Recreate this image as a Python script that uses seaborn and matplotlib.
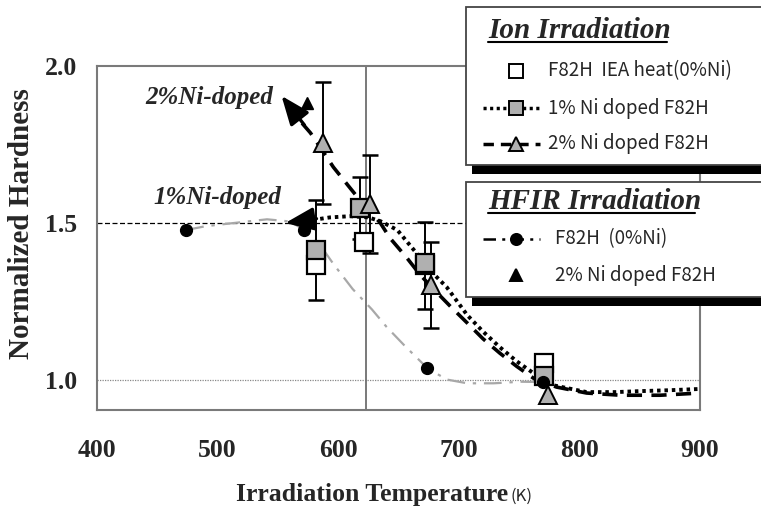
import matplotlib
matplotlib.use('Agg')
import matplotlib.pyplot as plt
import numpy as np
import pandas as pd
import seaborn as sns
from matplotlib.lines import Line2D
from matplotlib.patches import Rectangle

# ---- data ----
# ion irradiation, F82H IEA heat (0%Ni), white squares
t_iea = [582, 621, 672, 771]
h_iea = [1.366, 1.439, 1.365, 1.054]
e_iea = [0.0, 0.0, 0.139, 0.0]
# ion irradiation, 1% Ni doped F82H, grey squares
t_1ni = [582, 618, 672, 771]
h_1ni = [1.414, 1.548, 1.373, 1.013]
e_1ni = [0.16, 0.10, 0.0, 0.0]
# ion irradiation, 2% Ni doped F82H, grey triangles
t_2ni = [587, 626, 677, 774]
h_2ni = [1.755, 1.561, 1.303, 0.952]
e_2ni = [0.195, 0.156, 0.137, 0.0]
# HFIR irradiation
t_hfir = [474, 572, 674, 770]
h_hfir = [1.478, 1.478, 1.038, 0.994]
t_hfir2 = [574]
h_hfir2 = [1.882]

# fitted trend curves
fit1_t = [579, 593, 610, 625, 635, 649, 665, 676, 690, 707, 720, 734, 748, 762, 778, 806, 830, 850, 875, 900]
fit1_h = [1.510, 1.518, 1.522, 1.518, 1.506, 1.478, 1.404, 1.350, 1.296, 1.207, 1.155, 1.105, 1.060, 1.022, 0.984, 0.962, 0.962, 0.965, 0.968, 0.972]
fit2_t = [570, 577, 586, 596, 610, 618, 635, 643, 657, 668, 679, 693, 707, 720, 734, 748, 762, 781, 806, 834, 867, 900]
fit2_h = [1.818, 1.787, 1.736, 1.678, 1.611, 1.573, 1.500, 1.452, 1.389, 1.335, 1.290, 1.235, 1.182, 1.132, 1.086, 1.044, 1.006, 0.978, 0.959, 0.952, 0.952, 0.959]
fitH_t = [474, 490, 513, 541, 560, 572, 585, 596, 612, 628, 640, 655, 674, 690, 707, 729, 751, 770]
fitH_h = [1.478, 1.490, 1.500, 1.512, 1.505, 1.478, 1.430, 1.370, 1.290, 1.225, 1.170, 1.110, 1.038, 1.002, 0.990, 0.990, 0.995, 0.994]

x_ticks = [400, 500, 600, 700, 800, 900]
y_ticks = [1.0, 1.5, 2.0]
t_line = 623

W, H = 761, 508
GREY = '#b0b0b0'
SPINE = '#7a7a7a'

sns.set_style('white')
plt.rcParams['font.family'] = ['Liberation Serif', 'DejaVu Serif']

fig = plt.figure(figsize=(W / 100, H / 100), dpi=100)
ax = fig.add_axes([97 / W, 1 - 410 / H, (700 - 97) / W, (410 - 66) / H])
ax.set_xlim(400, 900)
ax.set_ylim(0.905, 2.0)

# reference lines
ax.axhline(1.5, color='black', lw=0.9, ls=(0, (4, 2)), zorder=1)
ax.axhline(1.0, color='#888888', lw=0.9, ls=(0, (1, 1)), zorder=1)
ax.axvline(t_line, color='#6e6e6e', lw=1.3, zorder=1)

# curves
sns.lineplot(x=fitH_t, y=fitH_h, ax=ax, color='#a8a8a8', lw=1.6,
             linestyle=(0, (8, 3.5, 1.5, 3.5)), zorder=2)
sns.lineplot(x=fit1_t, y=fit1_h, ax=ax, color='black', lw=2.8,
             linestyle=(0, (0.9, 1.0)), zorder=4)
sns.lineplot(x=fit2_t, y=fit2_h, ax=ax, color='black', lw=2.6,
             linestyle=(0, (4.2, 2.6)), zorder=4)

# error bars
for t, h, e in [(t_iea, h_iea, e_iea), (t_1ni, h_1ni, e_1ni), (t_2ni, h_2ni, e_2ni)]:
    t = np.array(t); h = np.array(h); e = np.array(e)
    m = e > 0
    ax.errorbar(t[m], h[m], yerr=e[m], fmt='none', ecolor='black',
                elinewidth=1.4, capsize=6, capthick=1.8, zorder=3)

# markers
ax.plot(t_iea, h_iea, ls='none', marker='s', ms=12.5, mfc='white', mec='black', mew=1.6, zorder=5)
ax.plot(t_1ni, h_1ni, ls='none', marker='s', ms=12.5, mfc=GREY, mec='black', mew=1.6, zorder=6)
ax.plot(t_2ni, h_2ni, ls='none', marker='^', ms=13, mfc=GREY, mec='black', mew=1.4, zorder=7)
ax.plot(t_hfir, h_hfir, ls='none', marker='o', ms=8.5, mfc='black', mec='black', zorder=8)
ax.plot(t_hfir2, h_hfir2, ls='none', marker='^', ms=8, mfc='black', mec='black', zorder=8)

# annotations with arrows
lab_font = dict(family=['Liberation Serif', 'DejaVu Serif'], weight='bold', style='italic', size=18)
ax.text(493, 1.901, '2%Ni-doped', ha='center', va='center', **lab_font)
ax.text(499.5, 1.583, '1%Ni-doped', ha='center', va='center', **lab_font)
arrow = dict(arrowstyle='-|>,head_length=0.8,head_width=0.32', color='black', lw=2.4,
             mutation_scale=22, shrinkA=0, shrinkB=0)
ax.annotate('', xy=(553, 1.905), xytext=(572, 1.812), arrowprops=arrow)
ax.annotate('', xy=(556, 1.500), xytext=(582, 1.514), arrowprops=arrow)

# axes cosmetics
for s in ax.spines.values():
    s.set_visible(True)
    s.set_color(SPINE)
    s.set_linewidth(1.5)
ax.set_xticks(x_ticks)
ax.set_xticklabels([str(v) for v in x_ticks])
ax.set_yticks(y_ticks)
ax.set_yticklabels(['%.1f' % v for v in y_ticks])
ax.set_yticks(np.arange(1.0, 2.0, 0.1), minor=True)
ax.tick_params(axis='both', which='both', direction='in', color=SPINE, width=1.2)
ax.tick_params(axis='x', length=8, pad=21, labelsize=18.5)
ax.tick_params(axis='y', which='both', length=6, pad=14, labelsize=18.5)
for lab in ax.get_xticklabels() + ax.get_yticklabels():
    lab.set_fontweight('bold')

# axis titles
fig.text(22 / W, 1 - 224 / H, 'Normalized Hardness', rotation=90, ha='center', va='center',
         fontsize=21, fontweight='bold')
fig.text(508 / W, 1 - 501 / H, 'Irradiation Temperature', ha='right', va='baseline',
         fontsize=18.5, fontweight='bold')
fig.text(510 / W, 1 - 501 / H, '(K)', ha='left', va='baseline', fontsize=12,
         family=['Noto Sans CJK JP', 'DejaVu Sans'])


# ---- legend boxes drawn in figure pixels ----
def px(x, y):
    return x / W, 1 - y / H


def box(x0, y0, y1):
    fig.add_artist(Rectangle(px(x0 + 6, y1 + 9), (W + 20 - x0) / W, (y1 - y0) / H,
                             facecolor='black', edgecolor='none', zorder=10))
    fig.add_artist(Rectangle(px(x0, y1), (W + 20 - x0) / W, (y1 - y0) / H,
                             facecolor='white', edgecolor='#444444', lw=1.3, zorder=11))


def title(x, y, s, x1):
    fig.text(*px(x, y), s, ha='left', va='baseline', fontsize=21, fontweight='bold',
             style='italic', zorder=12)
    fig.add_artist(Line2D([x / W, x1 / W], [1 - (y + 4) / H] * 2, color='black', lw=1.5, zorder=12))


def entry(y, label, ls, marker, mfc, ms, xt=548, lw=2.5):
    xs = [483 / W, 516 / W, 540 / W]
    ys = [1 - y / H] * 3
    if ls != 'none':
        fig.add_artist(Line2D(xs, ys, color='black', lw=lw, ls=ls, zorder=12))
    fig.add_artist(Line2D([xs[1]], [ys[1]], ls='none', marker=marker, ms=ms, mfc=mfc,
                          mec='black', mew=1.4, zorder=13))
    fig.text(xt / W, 1 - y / H, label, ha='left', va='center', fontsize=13.5,
             family=['Noto Sans CJK JP', 'DejaVu Sans'], zorder=13)


box(466, 7, 165)
title(488, 38, 'Ion Irradiation', 667)
entry(71, 'F82H  IEA heat(0%Ni)', 'none', 's', 'white', 9.5)
entry(108, '1% Ni doped F82H', (0, (0.9, 1.0)), 's', GREY, 9.5)
entry(144, '2% Ni doped F82H', (0, (3, 2)), '^', GREY, 10)

box(466, 182, 297)
title(488, 209, 'HFIR Irradiation', 695)
entry(239, 'F82H  (0%Ni)', (0, (5, 2.5, 1.2, 2.5)), 'o', 'black', 8, xt=555, lw=1.8)
entry(275, '2% Ni doped F82H', 'none', '^', 'black', 8, xt=555)

fig.savefig('out.png', dpi=100)
